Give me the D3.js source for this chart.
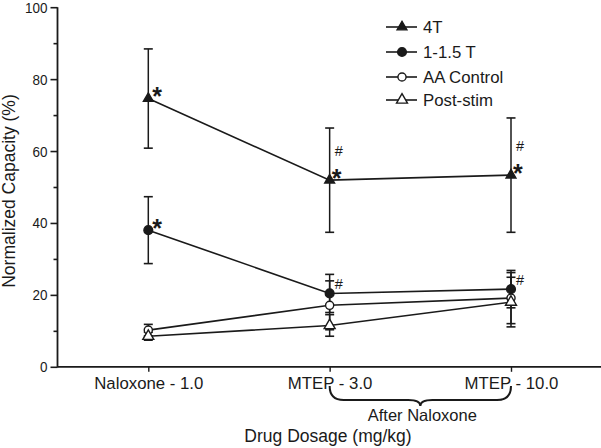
<!DOCTYPE html>
<html><head><meta charset="utf-8">
<script src="https://cdn.jsdelivr.net/npm/d3@7/dist/d3.min.js"></script>
<style>
body{margin:0;background:#fff;}
text{font-family:"Liberation Sans",Arial,Helvetica,sans-serif;fill:#1a1a1a;}
</style></head>
<body><svg id="c" width="601" height="448"></svg>
<script>
const categories = ["Naloxone - 1.0", "MTEP - 3.0", "MTEP - 10.0"];
const seriesNames = ["4T", "1-1.5 T", "AA Control", "Post-stim"];
const mean4T   = [74.6, 51.9, 53.3];
const err4T    = [13.8, 14.5, 15.9];
const mean1T   = [38.0, 20.4, 21.6];
const err1T    = [9.3, 5.3, 5.2];
const meanAA   = [10.2, 17.1, 19.1];
const errAA    = [1.6, 6.8, 7.1];
const meanPost = [8.5, 11.5, 18.0];
const errPost  = [1.1, 3.0, 6.9];
const yTicks = [0, 20, 40, 60, 80, 100];
const yMinorTicks = [10, 30, 50, 70, 90];
// significance marks: [seriesIndex, categoryIndex, label]
const marks = [[0,0,"*"],[1,0,"*"],[0,1,"*"],[0,1,"#"],[0,2,"*"],[0,2,"#"],[1,1,"#"],[1,2,"#"]];
const bracketLabel = "After Naloxone";
const xTitle = "Drug Dosage (mg/kg)";
const yTitle = "Normalized Capacity (%)";

const col = "#1a1a1a";
const svg = d3.select("#c");
const x = d3.scalePoint().domain(categories).range([148.3, 511]);
const y = d3.scaleLinear().domain([0, 100]).range([366.8, 7.2]);
const x0 = 57.5, xEnd = 601;

const series = [
  {name: seriesNames[0], m: mean4T, e: err4T, sym: d3.symbolTriangle, size: 42, fill: col},
  {name: seriesNames[1], m: mean1T, e: err1T, sym: d3.symbolCircle, size: 60, fill: col},
  {name: seriesNames[2], m: meanAA, e: errAA, sym: d3.symbolCircle, size: 52, fill: "#fff"},
  {name: seriesNames[3], m: meanPost, e: errPost, sym: d3.symbolTriangle, size: 52, fill: "#fff"}
];

// axes
const ySX = 0.87;
const yAxis = svg.append("g").attr("transform", `translate(${x0},0)`)
  .call(d3.axisLeft(y).tickValues(yTicks).tickSize(7).tickPadding(3).tickFormat(d3.format("d")));
yAxis.select(".domain").remove();
yAxis.selectAll("line").attr("stroke", col).attr("stroke-width", 1.6);
yAxis.selectAll("text").attr("font-size", 15.5).style("fill", col)
  .attr("x", -10 / ySX).attr("transform", `scale(${ySX},1)`);
svg.append("g").attr("transform", `translate(${x0},0)`)
  .call(d3.axisLeft(y).tickValues(yMinorTicks).tickSize(4).tickFormat(""))
  .call(g => g.select(".domain").remove())
  .selectAll("line").attr("stroke", col).attr("stroke-width", 1.6);
svg.append("line").attr("x1", x0).attr("x2", x0).attr("y1", y(100)).attr("y2", y(0) + 0.8)
  .attr("stroke", col).attr("stroke-width", 1.8);

const xAxis = svg.append("g").attr("transform", `translate(0,${y(0)})`)
  .call(d3.axisBottom(x).tickSize(5).tickPadding(5));
xAxis.select(".domain").remove();
xAxis.selectAll("line").attr("stroke", col).attr("stroke-width", 1.4);
xAxis.selectAll("text").attr("font-size", 16.8).style("fill", col);
svg.append("line").attr("x1", x0).attr("x2", xEnd).attr("y1", y(0)).attr("y2", y(0))
  .attr("stroke", col).attr("stroke-width", 1.8);

// titles
svg.append("text").attr("x", 328).attr("y", 442).attr("text-anchor", "middle")
  .attr("font-size", 17.5).text(xTitle);
svg.append("text").attr("transform", "translate(15,191) rotate(-90)").attr("text-anchor", "middle")
  .attr("font-size", 17.5).text(yTitle);

// bracket under MTEP categories
const bx1 = x(categories[1]), bx2 = x(categories[2]), bm = (bx1 + bx2) / 2;
const byTop = 386, byMid = 400, byTip = 406;
svg.append("path")
  .attr("d", `M${bx1},${byTop} Q${bx1},${byMid} ${bx1+14},${byMid} L${bm-12},${byMid} Q${bm},${byMid} ${bm},${byTip} Q${bm},${byMid} ${bm+12},${byMid} L${bx2-14},${byMid} Q${bx2},${byMid} ${bx2},${byTop}`)
  .attr("fill", "none").attr("stroke", col).attr("stroke-width", 2);
svg.append("text").attr("x", bm + 2).attr("y", 421).attr("text-anchor", "middle")
  .attr("font-size", 16.5).text(bracketLabel);

// error bars
const cap = 4.5;
series.forEach(s => {
  const g = svg.append("g");
  categories.forEach((c, i) => {
    const cx = x(c), hi = y(s.m[i] + s.e[i]), lo = y(s.m[i] - s.e[i]);
    g.append("line").attr("x1", cx).attr("x2", cx).attr("y1", hi).attr("y2", lo).attr("stroke", col).attr("stroke-width", 1.5);
    [hi, lo].forEach(yy => g.append("line").attr("x1", cx - cap).attr("x2", cx + cap).attr("y1", yy).attr("y2", yy).attr("stroke", col).attr("stroke-width", 1.6));
  });
});
// lines
const line = d3.line().x((d, i) => x(categories[i])).y(d => y(d));
series.forEach(s => {
  svg.append("path").attr("d", line(s.m)).attr("fill", "none").attr("stroke", col).attr("stroke-width", 1.6);
});
// markers
series.forEach(s => {
  categories.forEach((c, i) => {
    svg.append("path").attr("d", d3.symbol().type(s.sym).size(s.size)())
      .attr("transform", `translate(${x(c)},${y(s.m[i])})`)
      .attr("fill", s.fill).attr("stroke", col).attr("stroke-width", 1.4);
  });
});

// significance marks
marks.forEach(([si, ci, t]) => {
  const s = series[si];
  const px = x(categories[ci]), py = y(s.m[ci]);
  let dx, dy;
  if (t === "*") { dx = ci === 0 ? 4 : 2; dy = -8; }
  else { dx = 5; dy = si === 0 ? -28 : -8; }
  svg.append("text").attr("x", px + dx).attr("y", py + dy)
    .attr("dominant-baseline", "middle")
    .attr("font-size", t === "*" ? 25 : 14.5)
    .attr("font-weight", t === "*" ? "bold" : "normal")
    .attr("dy", t === "*" ? "0.33em" : "0")
    .text(t);
});

// legend
const lg = svg.append("g");
series.forEach((s, i) => {
  const ly = [27, 52, 77, 100][i];
  lg.append("line").attr("x1", 386).attr("x2", 417).attr("y1", ly).attr("y2", ly).attr("stroke", col).attr("stroke-width", 1.6);
  lg.append("path").attr("d", d3.symbol().type(s.sym).size(s.size)())
    .attr("transform", `translate(402,${ly})`).attr("fill", s.fill).attr("stroke", col).attr("stroke-width", 1.4);
  lg.append("text").attr("x", 423).attr("y", ly + 6).attr("font-size", 16.8).text(s.name);
});
</script></body></html>
